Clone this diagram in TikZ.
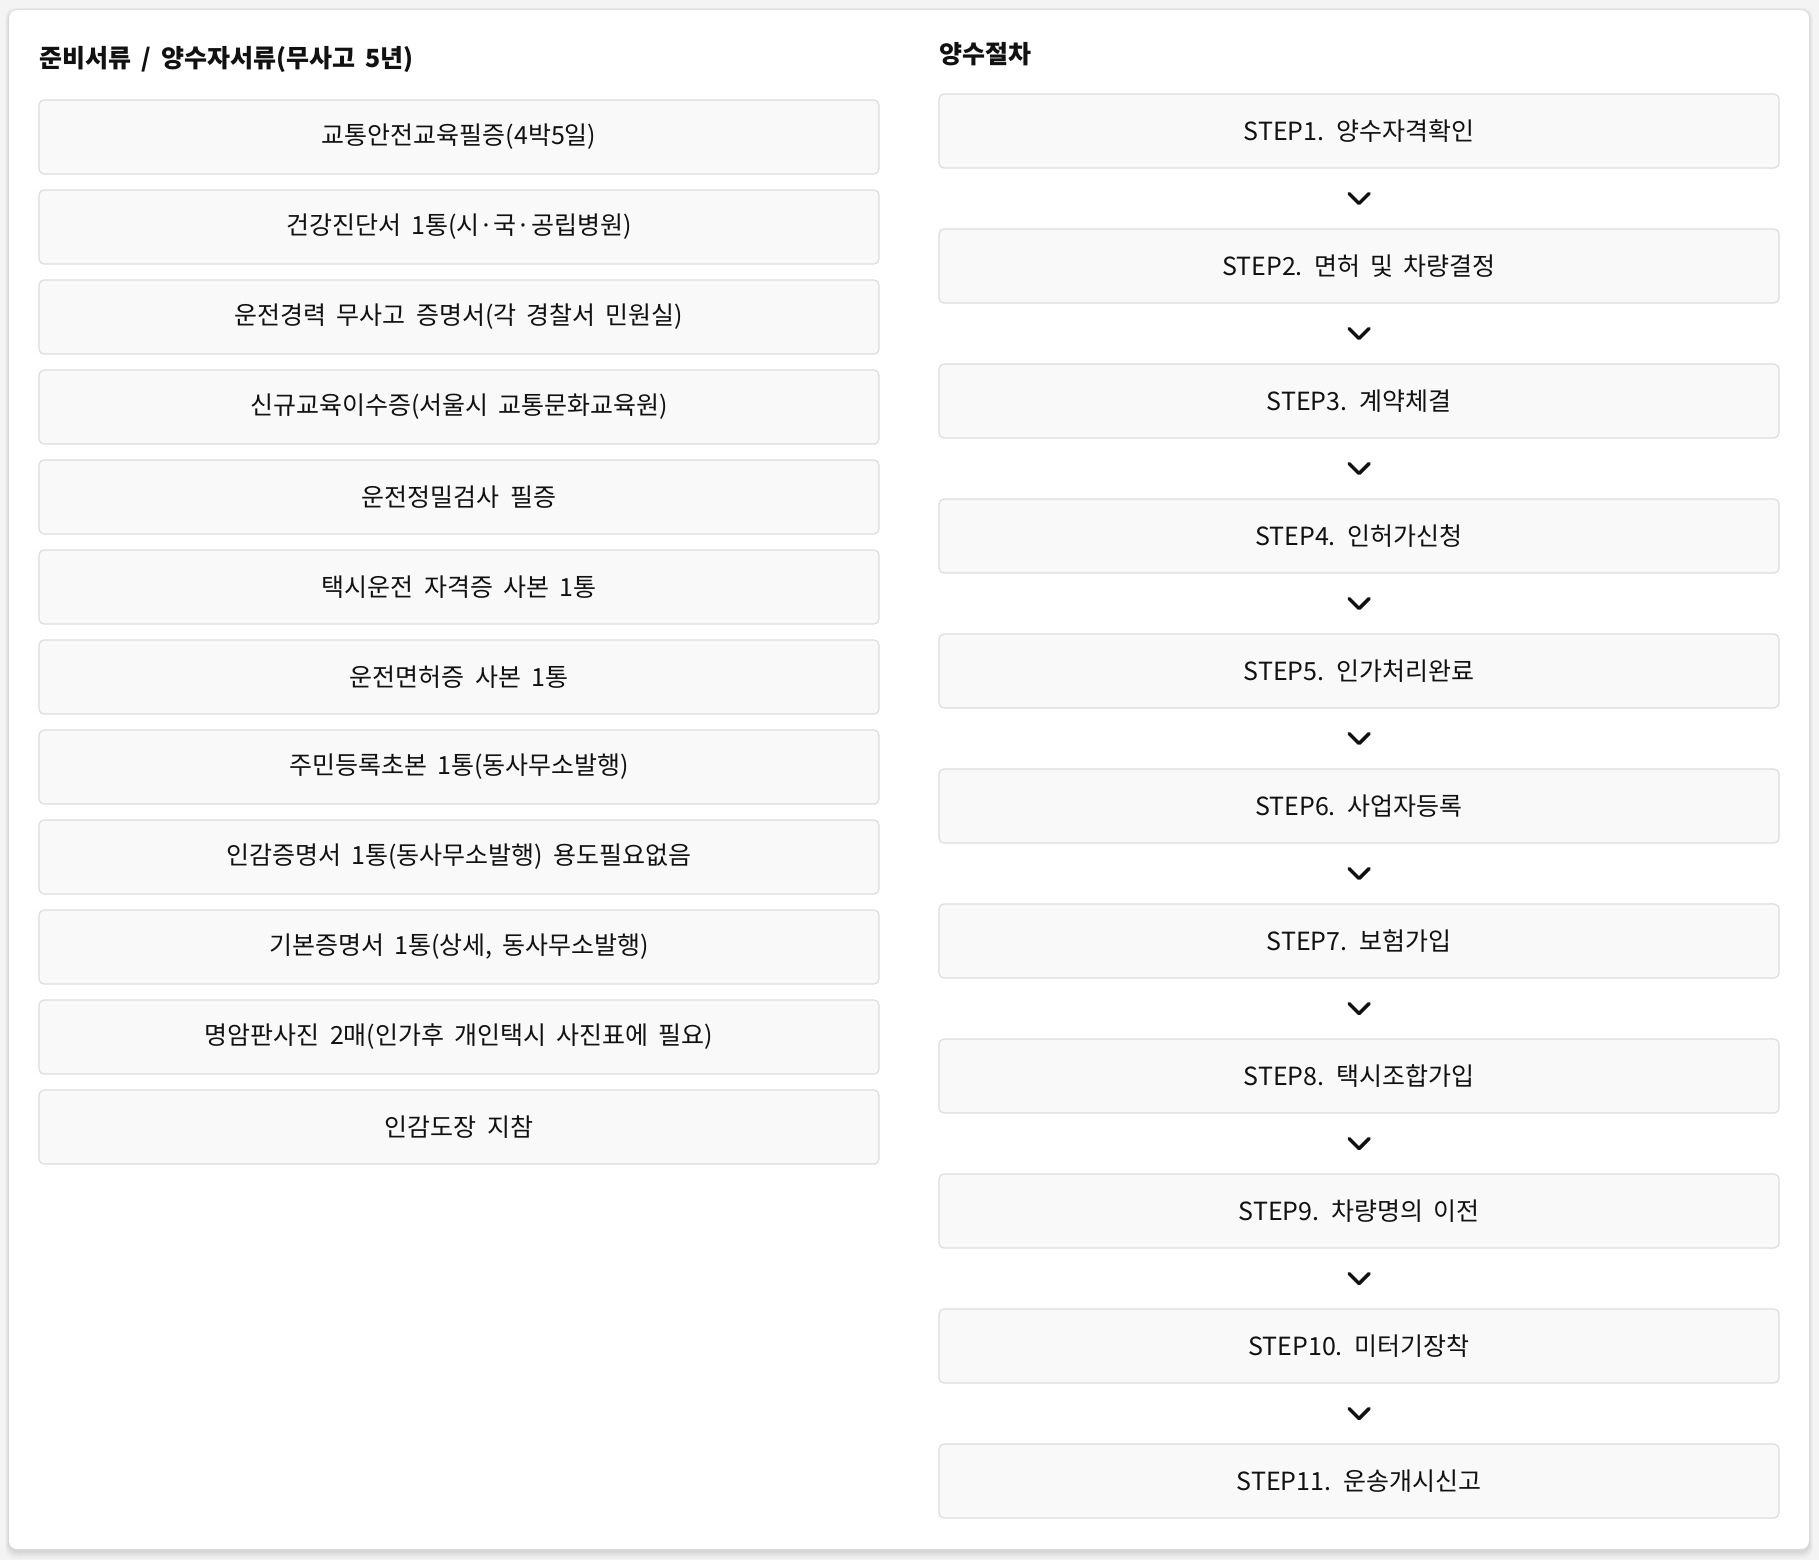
\documentclass[tikz,border=0pt]{standalone}
\usepackage{fontspec}
\setmainfont[WordSpace=1.8]{Noto Sans CJK KR}
\usetikzlibrary{calc}
\definecolor{pagebg}{HTML}{F4F4F4}
\definecolor{boxfill}{HTML}{F9F9F9}
\definecolor{boxline}{HTML}{DDDDDD}
\definecolor{ink}{HTML}{111111}
\tikzset{
  docbox/.style={draw=boxline, line width=1.2pt, fill=boxfill, rounded corners=5pt,
    minimum width=840pt, minimum height=74pt, inner sep=0pt, text=ink,
    font=\fontsize{25}{30}\selectfont},
  stepbox/.style={docbox},
  heading/.style={anchor=west, inner sep=0pt, text=ink, font=\bfseries\fontsize{25}{30}\selectfont},
  chev/.style={draw=ink, line width=3.5pt, line cap=round, line join=round}
}
\begin{document}
\begin{tikzpicture}[x=1pt,y=-1pt]
\useasboundingbox (0,0) rectangle (1819,1560);
\fill[pagebg] (0,0) rectangle (1819,1560);
% soft shadow
\foreach \i/\o in {8/0.06,6/0.08,4/0.10,2/0.12}{
  \fill[black, opacity=\o/3, rounded corners=10pt] (9-\i/2,10-\i/4) rectangle (1809+\i/2,1551+\i);
}
\fill[white, rounded corners=8pt] (9,10) rectangle (1809,1549);

\node[heading] (htitleL) at (39,60) {준비서류 / 양수자서류(무사고 5년)};
\node[heading] (htitleR) at (939,54) {양수절차};

% left column
\foreach \t [count=\k] in {
  교통안전교육필증(4박5일),
  건강진단서 1통(시·국·공립병원),
  운전경력 무사고 증명서(각 경찰서 민원실),
  신규교육이수증(서울시 교통문화교육원),
  운전정밀검사 필증,
  택시운전 자격증 사본 1통,
  운전면허증 사본 1통,
  주민등록초본 1통(동사무소발행),
  인감증명서 1통(동사무소발행) 용도필요없음,
  {기본증명서 1통(상세, 동사무소발행)},
  명암판사진 2매(인가후 개인택시 사진표에 필요),
  인감도장 지참}{
  \node[docbox] (d\k) at (459,{137+90*(\k-1)}) {\t};
}

% right column
\foreach \t [count=\k] in {
  STEP1. 양수자격확인,
  STEP2. 면허 및 차량결정,
  STEP3. 계약체결,
  STEP4. 인허가신청,
  STEP5. 인가처리완료,
  STEP6. 사업자등록,
  STEP7. 보험가입,
  STEP8. 택시조합가입,
  STEP9. 차량명의 이전,
  STEP10. 미터기장착,
  STEP11. 운송개시신고}{
  \node[stepbox] (s\k) at (1359,{131+135*(\k-1)}) {\t};
}

% chevrons between steps
\foreach \a [evaluate=\a as \b using int(\a+1)] in {1,...,10}{
  \coordinate (m\a) at ($(s\a.south)!0.5!(s\b.north)$);
  \draw[chev] ($(m\a)+(-10,-5)$) -- ($(m\a)+(0,5)$) -- ($(m\a)+(10,-5)$);
}
\end{tikzpicture}
\end{document}
